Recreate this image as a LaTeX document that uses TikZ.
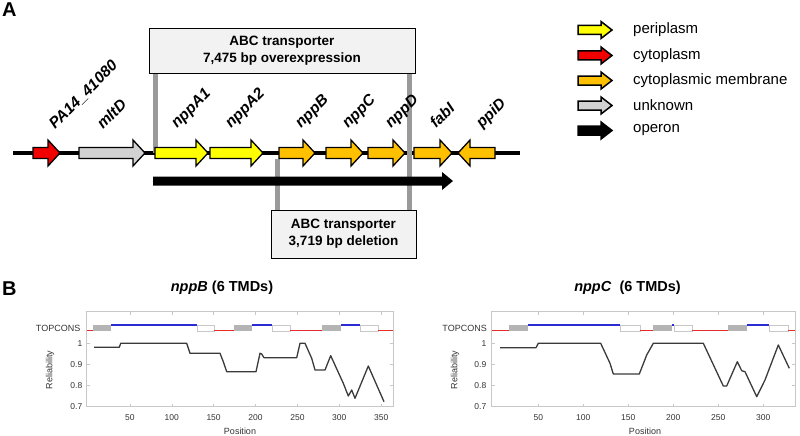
\documentclass[tikz,border=0pt]{standalone}
\usepackage{fontspec}
\setmainfont{Liberation Sans}
\usetikzlibrary{calc}
\definecolor{geneyellow}{HTML}{FFFF00}
\definecolor{genered}{HTML}{F20000}
\definecolor{geneorange}{HTML}{FFC000}
\definecolor{genegray}{HTML}{D2D2D2}
\definecolor{boxfill}{HTML}{F2F2F2}
\definecolor{linkgray}{HTML}{9A9A9A}
\definecolor{tcblue}{HTML}{2B2BD6}
\definecolor{tcred}{HTML}{E42C2C}
\definecolor{tcgray}{HTML}{B4B4B4}
\definecolor{plotframe}{HTML}{C8C8C8}
\definecolor{plottext}{HTML}{333333}
\definecolor{curvecol}{HTML}{3A3A3A}
\tikzset{
  genebox/.style={draw=black, line width=1.3pt, line join=miter},
  legbox/.style={draw=black, line width=1.5pt, line join=miter},
  legtext/.style={anchor=west, inner sep=0pt, font=\fontsize{15}{18}\selectfont},
  genelab/.style={anchor=base west, rotate=45, inner sep=0pt, font=\fontsize{15.5}{18}\selectfont\bfseries\itshape},
  infobox/.style={draw=black, fill=boxfill, line width=1pt, align=center, inner sep=0pt, font=\fontsize{13.5}{17}\selectfont\bfseries},
  linkline/.style={draw=linkgray, line width=4.5pt},
  panellab/.style={anchor=base west, inner sep=0pt, font=\fontsize{20}{24}\selectfont\bfseries},
  plottitle/.style={inner sep=0pt, font=\fontsize{14.5}{17}\selectfont\bfseries},
  plotbox/.style={draw=plotframe, line width=0.7pt},
  tickline/.style={draw=plotframe, line width=0.6pt},
  ticklab/.style={inner sep=0pt, text=plottext, font=\fontsize{8.5}{10}\selectfont},
  axlab/.style={inner sep=0pt, text=plottext, font=\fontsize{9}{11}\selectfont},
  segR/.style={draw=tcred, line width=1.7pt},
  segB/.style={draw=tcblue, line width=1.7pt},
  segW/.style={draw=plotframe, fill=white, line width=0.7pt},
  curveline/.style={draw=curvecol, line width=1.3pt, line join=round}
}
\newcommand{\rgene}[3]{\draw[genebox,fill=#3] (#1,147.5) -- ({#2-12},147.5) -- ({#2-12},140) -- (#2,153) -- ({#2-12},166) -- ({#2-12},158.5) -- (#1,158.5) -- cycle;}
\newcommand{\lgene}[3]{\draw[genebox,fill=#3] (#2,147.5) -- ({#1+12},147.5) -- ({#1+12},140) -- (#1,153) -- ({#1+12},166) -- ({#1+12},158.5) -- (#2,158.5) -- cycle;}
\newcommand{\legarrow}[4]{\draw[legbox,fill=#2] (578,{#1-4.5}) -- (601,{#1-4.5}) -- (601,{#1-8.5}) -- (612,#1) -- (601,{#1+8.5}) -- (601,{#1+4.5}) -- (578,{#1+4.5}) -- cycle;
  \node[legtext] (#3) at (633,#1) {#4};}
\newcommand{\sR}[2]{\draw[segR] (#1,330.5) -- (#2,330.5);}
\newcommand{\sB}[2]{\draw[segB] (#1,325) -- (#2,325);}
\newcommand{\sG}[2]{\fill[tcgray] (#1,324.5) rectangle (#2,331);}
\newcommand{\sW}[2]{\draw[segW] (#1,325) rectangle (#2,331);}
\begin{document}
\begin{tikzpicture}[x=1pt, y=-1pt]
\useasboundingbox (0,0) rectangle (800,436);
% ---------------- Panel A ----------------
\node[panellab] (labA) at (2,17) {A};
\node[infobox, minimum width=266pt, minimum height=44pt] (topbox) at (282,51) {ABC transporter\\7,475 bp overexpression};
\node[infobox, minimum width=145pt, minimum height=48pt] (botbox) at (343.5,234) {ABC transporter\\3,719 bp deletion};
\coordinate (l1) at (155.5,153);
\coordinate (l2) at (409.5,153);
\coordinate (l3) at (277.5,159);
% backbone
\draw[line width=4pt] (13,153) -- (520,153);
% link lines
\draw[linkline] (l1 |- topbox.south) -- (l1);
\draw[linkline] (l2 |- topbox.south) -- (l2 |- botbox.north);
\draw[linkline] (l3) -- (l3 |- botbox.north);
% genes
\rgene{33}{60}{genered}
\rgene{79}{145}{genegray}
\rgene{155}{208}{geneyellow}
\rgene{210}{263}{geneyellow}
\rgene{279}{315}{geneorange}
\rgene{326}{363}{geneorange}
\rgene{368}{405}{geneorange}
\rgene{414}{452}{geneorange}
\lgene{458}{495}{geneorange}
% operon arrow
\fill[black] (153,176.5) -- (442,176.5) -- (442,172) -- (453,181) -- (442,190) -- (442,185.5) -- (153,185.5) -- cycle;
% gene labels
\node[genelab] (gPA) at (55,130) {PA14\_41080};
\node[genelab] (gmltD) at (103,130) {mltD};
\node[genelab] (gA1) at (177,129) {nppA1};
\node[genelab] (gA2) at (231,129) {nppA2};
\node[genelab] (gB) at (301,129) {nppB};
\node[genelab] (gC) at (348,129) {nppC};
\node[genelab] (gD) at (391,129) {nppD};
\node[genelab] (gfabI) at (436,129) {fabI};
\node[genelab] (gppiD) at (482,129) {ppiD};
% legend
\legarrow{30}{geneyellow}{legP}{periplasm}
\legarrow{55.5}{genered}{legC}{cytoplasm}
\legarrow{80.5}{geneorange}{legM}{cytoplasmic membrane}
\legarrow{105.5}{genegray}{legU}{unknown}
\legarrow{130.5}{black}{legO}{operon}
% ---------------- Panel B ----------------
\node[panellab] (labB) at (2,295) {B};
% ---- plot 1: nppB
\node[plottitle] (t1) at (222,287.5) {\textit{nppB} (6 TMDs)};
\draw[plotbox] (86.7,311.7) rectangle (393.3,406.7);
\foreach \x/\t [count=\i] in {129.9/50,171.8/100,213.6/150,255.5/200,297.4/250,339.3/300,381.2/350} {
  \draw[tickline] (\x,406.7) -- (\x,403.7);
  \draw[tickline] (\x,311.7) -- (\x,314.7);
  \node[ticklab] (p1x\i) at (\x,417.7) {\t};
}
\foreach \y/\t [count=\i] in {343.3/1,364.3/0.9,385.3/0.8,406.3/0.7} {
  \draw[tickline] (86.7,\y) -- (89.7,\y);
  \draw[tickline] (393.3,\y) -- (390.3,\y);
  \node[ticklab, anchor=east] (p1y\i) at (82.5,\y) {\t};
}
\node[axlab, anchor=east] (p1tc) at (80.5,328) {TOPCONS};
\node[axlab, rotate=90] (p1rel) at (50,370) {Reliability};
\node[axlab] (p1pos) at (240,431) {Position};
\sR{86.7}{93}\sG{93}{111}\sB{111}{197}\sW{197}{214}\sR{214}{234}\sG{234}{252}\sB{252}{272}\sW{272}{290}\sR{290}{322}\sG{322}{341}\sB{341}{360}\sW{360}{378}\sR{378}{393.3}
\draw[curveline] (94,347.3) -- (119.3,347.3) -- (120.7,343.3) -- (186.7,343.3) -- (190,353.3) -- (220,353.3) -- (223.3,361.7) -- (226.7,371.7) -- (256,371.7) -- (260,353.3) -- (261.7,354) -- (264,357.7) -- (296.7,357.7) -- (300,343.3) -- (305,343.3) -- (311.7,358.3) -- (315,370) -- (325,370) -- (330.7,355.7) -- (343.3,383.3) -- (348.3,396) -- (351.7,390) -- (355,398.3) -- (368.3,366) -- (384,401.7);
% ---- plot 2: nppC
\node[plottitle] (t2) at (627.5,287.5) {\textit{nppC}\ \ (6 TMDs)};
\draw[plotbox] (491.7,311.7) rectangle (795,406.7);
\foreach \x/\t [count=\i] in {538.3/50,583.3/100,628.3/150,673.3/200,718.3/250,763.3/300} {
  \draw[tickline] (\x,406.7) -- (\x,403.7);
  \draw[tickline] (\x,311.7) -- (\x,314.7);
  \node[ticklab] (p2x\i) at (\x,417.7) {\t};
}
\foreach \y/\t [count=\i] in {343.3/1,364.3/0.9,385.3/0.8,406.3/0.7} {
  \draw[tickline] (491.7,\y) -- (494.7,\y);
  \draw[tickline] (795,\y) -- (792,\y);
  \node[ticklab, anchor=east] (p2y\i) at (486.5,\y) {\t};
}
\node[axlab, anchor=east] (p2tc) at (487,328) {TOPCONS};
\node[axlab, rotate=90] (p2rel) at (455,370) {Reliability};
\node[axlab] (p2pos) at (645,431) {Position};
\sR{491.7}{509.3}\sG{509.3}{528.3}\sB{528.3}{620}\sW{620}{640}\sR{640}{652.7}\sG{652.7}{671.7}\sB{671.7}{674}\sW{674}{692.3}\sR{692.3}{728.3}\sG{728.3}{746.7}\sB{746.7}{769.3}\sW{769.3}{788.3}\sR{788.3}{795}
\draw[curveline] (500,347.7) -- (536,347.7) -- (538.3,343.3) -- (600.7,343.3) -- (610,363.3) -- (613.3,374) -- (639.3,374) -- (646.7,355) -- (653.3,343.3) -- (703.3,343.3) -- (723.3,386) -- (726.7,386) -- (737.3,361.7) -- (741.7,370.7) -- (745,371.7) -- (756.7,396.7) -- (765,380) -- (778.3,345) -- (789.3,368.3);
\end{tikzpicture}
\end{document}
